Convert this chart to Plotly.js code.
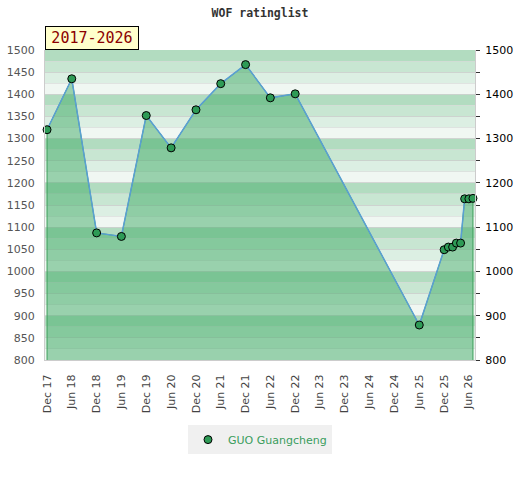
<!DOCTYPE html>
<html>
<head>
<meta charset="utf-8">
<script src="https://cdn.plot.ly/plotly-3.0.1.min.js"></script>
<style>html,body{margin:0;padding:0;background:#fff;}#chart{width:520px;height:480px;}</style>
</head>
<body>
<div id="chart"></div>
<script>
// ---- data ----
var playerName = 'GUO Guangcheng';
var periodLabel = '2017-2026';
var chartTitle = 'WOF ratinglist';
var dates = ['2017-12-01','2018-06-01','2018-12-01','2019-06-01','2019-12-01','2020-06-01',
             '2020-12-01','2021-06-01','2021-12-01','2022-06-01','2022-12-01','2025-06-01',
             '2025-12-01','2026-01-01','2026-02-01','2026-03-01','2026-04-01','2026-05-01',
             '2026-06-01','2026-07-01'];
var ratings = [1320,1435,1087,1079,1352,1279,1365,1424,1467,1392,1401,879,
               1049,1055,1055,1064,1064,1164,1164,1165];
var yMin = 800, yMax = 1500;

// ---- background stripes (per 100 band, 4 shades) ----
var stripeColors = ['#f0f7f2','#dcefe3','#c8e6d2','#b2dcc0'];
var shapes = [];
for (var b = yMin; b < yMax; b += 100) {
  for (var k = 0; k < 4; k++) {
    shapes.push({type:'rect', xref:'paper', yref:'y', x0:0, x1:1,
      y0:b + k*25, y1:b + (k+1)*25, fillcolor:stripeColors[k], line:{width:0}, layer:'below'});
  }
}

function shiftDays(d, n) {
  var t = new Date(d + 'T00:00:00Z'); t.setUTCDate(t.getUTCDate() + n);
  return t.toISOString().slice(0,10);
}

var areaX = [dates[0]].concat(dates, [dates[dates.length-1]]);
var areaY = [yMin].concat(ratings, [yMin]);

var traces = [
  {x: areaX, y: areaY, type:'scatter', mode:'lines', fill:'toself',
   fillcolor:'rgba(65,171,103,0.5)', line:{color:'rgb(60,160,90)', width:1},
   hoverinfo:'skip', showlegend:false},
  {x: dates, y: ratings, type:'scatter', mode:'lines',
   line:{color:'#5a9fd4', width:1.5}, showlegend:false},
  {x: dates, y: ratings, type:'scatter', mode:'markers', name: playerName,
   marker:{color:'#2e9b56', size:8, line:{color:'#000', width:1}}, cliponaxis:false},
  {x: [dates[0]], y: [yMin], yaxis:'y2', type:'scatter', mode:'markers',
   marker:{opacity:0}, showlegend:false, hoverinfo:'skip'}
];

var layout = {
  width:520, height:480,
  margin:{l:45, r:45, t:50, b:120},
  paper_bgcolor:'#ffffff', plot_bgcolor:'#ffffff',
  title:{text: chartTitle, x:0.5, xanchor:'center', y:0.973, yanchor:'middle',
         font:{family:'DejaVu Sans Mono', size:11.5, color:'#333', weight:'bold'}},
  shapes: shapes,
  xaxis:{type:'date', range:[shiftDays(dates[0],-15), shiftDays(dates[dates.length-1],15)],
         tick0:'2017-12-01', dtick:'M6', tickformat:'%b %y', tickangle:-90,
         showgrid:false, zeroline:false, showline:true, linecolor:'#cccccc',
         ticks:'', ticklabelstandoff:9, tickfont:{family:'DejaVu Sans', size:11, color:'#444'}},
  yaxis:{range:[yMin, yMax], dtick:50, showgrid:true, gridcolor:'rgba(200,200,200,0.7)',
         minor:{dtick:25, showgrid:true, gridcolor:'rgba(215,215,215,0.6)'},
         zeroline:false, showline:true, linecolor:'#cccccc', ticks:'', ticklabelstandoff:7,
         tickfont:{family:'DejaVu Sans', size:11, color:'#555'}},
  yaxis2:{range:[yMin, yMax], dtick:100, overlaying:'y', side:'right', showgrid:false,
          zeroline:false, showline:true, linecolor:'#cccccc', ticks:'outside', ticklen:4,
          tickcolor:'#333', ticklabelstandoff:3, minor:{dtick:50, ticks:'outside', ticklen:4, tickcolor:'#333'},
          tickfont:{family:'DejaVu Sans', size:11, color:'#000'}},
  showlegend:true,
  legend:{orientation:'h', x:0.5, xanchor:'center', y:-0.21, yanchor:'top',
          bgcolor:'#f0f0f0', font:{family:'DejaVu Sans', size:11, color:'#3a9d5d'}},
  annotations:[{text: periodLabel, xref:'paper', yref:'paper', x:0, y:1, xanchor:'left', yanchor:'bottom',
     showarrow:false, bgcolor:'#ffffcc', bordercolor:'#000', borderwidth:1, borderpad:2,
     width:88, height:18, align:'center',
     font:{family:'DejaVu Sans Mono', size:15, color:'#8b0000'}}]
};

Plotly.newPlot('chart', traces, layout, {displayModeBar:false, staticPlot:true});
</script>
</body>
</html>
